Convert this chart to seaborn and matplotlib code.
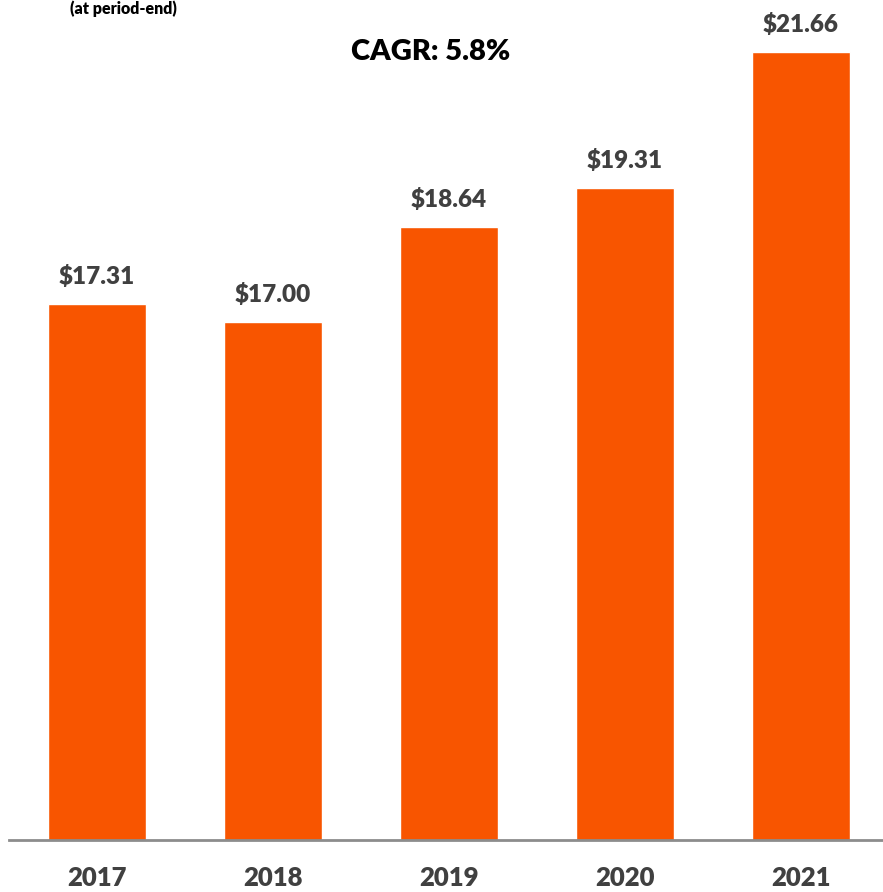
import matplotlib
matplotlib.use("Agg")
import matplotlib.pyplot as plt
import seaborn as sns
import pandas as pd

years = ["2017", "2018", "2019", "2020", "2021"]
values = [17.31, 17.00, 18.64, 19.31, 21.66]
value_labels = ["$17.31", "$17.00", "$18.64", "$19.31", "$21.66"]
subtitle = "(at period-end)"
cagr_text = "CAGR: 5.8%"

sns.set_theme(style="white")
plt.rcParams["font.family"] = ["Lato", "DejaVu Sans"]
WEIGHT = "heavy"

df = pd.DataFrame({"year": years, "value": values})

W, H = 883, 892
fig = plt.figure(figsize=(W / 100, H / 100), dpi=100)
ax_left, ax_right = 9, 883
base_y = 840
ax = fig.add_axes([ax_left / W, (H - base_y) / H, (ax_right - ax_left) / W, base_y / H])

sns.barplot(data=df, x="year", y="value", color="#F85500", saturation=1, width=0.56, ax=ax)

px_per_unit = 176
ax.set_xlim(-0.5, -0.5 + (ax_right - ax_left) / px_per_unit)
y0 = 8.06
scale = 57.93
ax.set_ylim(y0, y0 + base_y / scale)

for i, (v, lab) in enumerate(zip(values, value_labels)):
    ax.annotate(lab, (i, v), xytext=(0, 16), textcoords="offset pixels",
                ha="center", va="bottom", fontsize=17.5, fontweight=WEIGHT, color="#404040")

for s in ["top", "right", "left"]:
    ax.spines[s].set_visible(False)
ax.spines["bottom"].set_color("#8c8c8c")
ax.spines["bottom"].set_linewidth(2)
ax.set_yticks([])
ax.set_xlabel("")
ax.set_ylabel("")
ax.tick_params(axis="x", length=0, pad=19, labelsize=18.5, labelcolor="#404040")
for t in ax.get_xticklabels():
    t.set_fontweight(WEIGHT)

fig.text(70 / W, 1 - 9 / H, subtitle, ha="left", va="center", fontsize=11.5, fontweight=WEIGHT, color="black")
fig.text(431 / W, 1 - 52 / H, cagr_text, ha="center", va="center", fontsize=21, fontweight=WEIGHT, color="black")

fig.savefig("out.png", dpi=100)
